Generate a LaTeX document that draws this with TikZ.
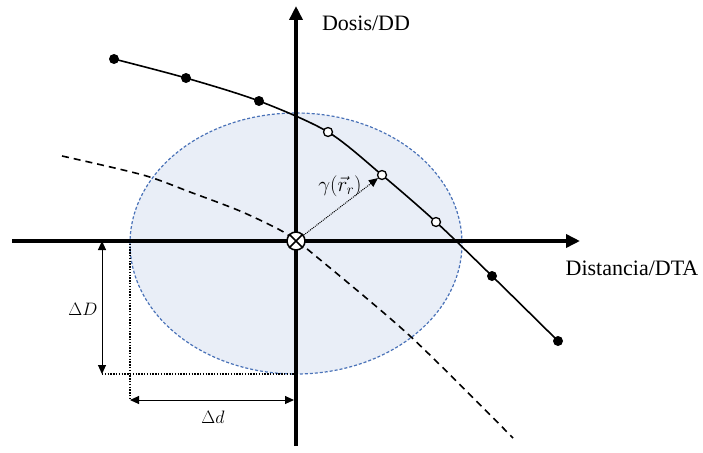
\RequirePackage{fix-cm}
\documentclass[tikz,border=0pt]{standalone}
\usepackage{fontspec}
\setmainfont{Liberation Serif}
\usetikzlibrary{arrows.meta,shapes.geometric}
\definecolor{ellfill}{HTML}{E9EEF7}
\definecolor{elldraw}{HTML}{4A72B8}
\begin{document}
\begin{tikzpicture}[x=1pt,y=-1pt,
  axis/.style={line width=4pt,-{Triangle[length=14pt,width=13pt]}},
  fdot/.style={circle,fill=black,inner sep=0pt,minimum size=10pt},
  odot/.style={circle,draw=black,fill=white,line width=1.3pt,inner sep=0pt,minimum size=9pt},
  dimarrow/.style={line width=1pt,{Triangle[length=9pt,width=8pt]}-{Triangle[length=9pt,width=8pt]}},
  guide/.style={line width=1.4pt,dash pattern=on 1.4pt off 1.4pt},
  lbl/.style={font=\fontsize{22}{26}\selectfont,inner sep=0pt},
  mlbl/.style={font=\fontsize{18}{22}\selectfont,inner sep=0pt},
  glbl/.style={font=\fontsize{21}{25}\selectfont,inner sep=0pt}]
\useasboundingbox (0,0) rectangle (703,452);
% ellipse
\node[draw=elldraw,fill=ellfill,dash pattern=on 3pt off 2pt,line width=1.2pt,
  shape=ellipse,minimum width=332pt,minimum height=261pt,inner sep=0pt] (ell) at (296,243.5) {};
% coordinates
\coordinate (o) at (296,241);
\coordinate (q1) at (62,156);
\coordinate (q2) at (143,175);
\coordinate (q3) at (190,192);
\coordinate (q4) at (240,211);
\coordinate (q5) at (280,230);
\coordinate (q6) at (312,253);
\coordinate (q7) at (410,336);
\coordinate (q8) at (513,438);
% dashed curve
\draw[line width=1.6pt,dash pattern=on 7pt off 5pt] plot[smooth,tension=0.5] coordinates {(q1) (q2) (q3) (q4) (q5) (o) (q6) (q7) (q8)};
% dimension guides
\coordinate (dD1) at (102,241);
\coordinate (dD2) at (102,374);
\coordinate (ev) at (130,241);
\coordinate (ev2) at (130,400);
\coordinate (eb) at (296,374);
\coordinate (dd2) at (294,400);
\draw[guide] (dD2) -- (eb);
\draw[guide] (ev) -- (ev2);
% axes
\coordinate (xa) at (12,241);
\coordinate (xb) at (580,241);
\coordinate (ya) at (296,446);
\coordinate (yb) at (296,6);
\draw[axis] (xa) -- (xb);
\draw[axis] (ya) -- (yb);
% dimension arrows
\draw[dimarrow] (dD1) -- (dD2);
\draw[dimarrow] (ev2) -- (dd2);
\node[mlbl] (lD) at (83,309) {$\Delta D$};
\node[mlbl] (ld) at (213,417) {$\Delta d$};
% solid curve points
\coordinate (p1) at (114,59);
\coordinate (p2) at (186,78);
\coordinate (p3) at (259,101);
\coordinate (p4) at (328,132);
\coordinate (p5) at (382,175);
\coordinate (p6) at (436,222);
\coordinate (p7) at (492,276);
\coordinate (p8) at (558,341);
\draw[line width=1.6pt] plot[smooth,tension=0.5] coordinates {(p1) (p2) (p3) (p4) (p5) (p6) (p7) (p8)};
\foreach \p in {p1,p2,p3,p7,p8} \node[fdot] (d\p) at (\p) {};
\foreach \p in {p4,p5,p6} \node[odot] (d\p) at (\p) {};
% gamma arrow
\node[circle,draw=black,fill=white,line width=1.5pt,minimum size=18pt,inner sep=0pt] (orig) at (o) {};
\draw[line width=1pt,dash pattern=on 1pt off 1pt,-{Triangle[length=9pt,width=8pt]}] (orig) -- (dp5);
\draw[line width=1.5pt] (orig.north west) -- (orig.south east) (orig.north east) -- (orig.south west);
\node[glbl] (lg) at (340,186) {$\gamma(\vec{r}_r)$};
% axis labels
\node[lbl] (ly) at (366,23) {Dosis/DD};
\node[lbl] (lx) at (632,268) {Distancia/DTA};
\end{tikzpicture}
\end{document}
